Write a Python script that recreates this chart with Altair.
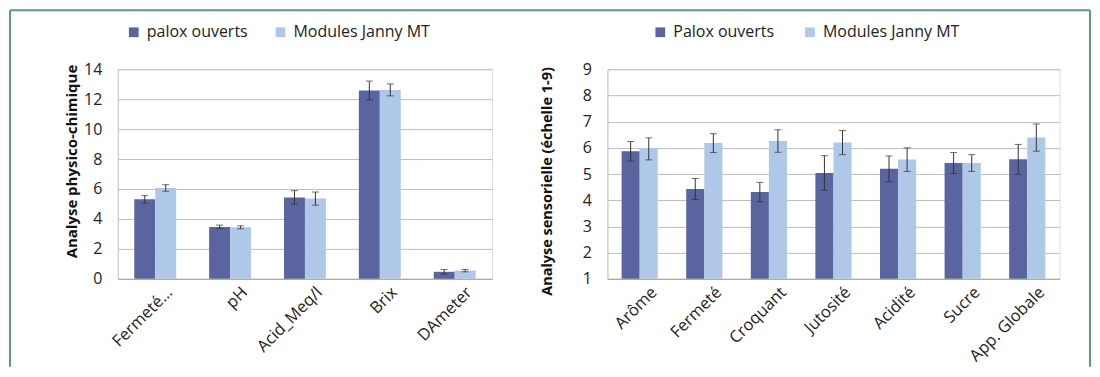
import altair as alt
import pandas as pd

# ---- data ----
left_cats = ["Fermeté…", "pH", "Acid_Meq/l", "Brix", "DAmeter"]
left_series = ["palox ouverts", "Modules Janny MT"]
left_dark = [5.31, 3.47, 5.44, 12.58, 0.47]
left_dark_err = [0.25, 0.12, 0.45, 0.63, 0.15]
left_light = [6.07, 3.44, 5.36, 12.62, 0.55]
left_light_err = [0.22, 0.10, 0.44, 0.40, 0.08]

right_cats = ["Arôme", "Fermeté", "Croquant", "Jutosité", "Acidité", "Sucre", "App. Globale"]
right_series = ["Palox ouverts", "Modules Janny MT"]
right_dark = [5.87, 4.43, 4.31, 5.04, 5.20, 5.42, 5.56]
right_dark_err = [0.37, 0.40, 0.37, 0.66, 0.49, 0.40, 0.57]
right_light = [5.96, 6.18, 6.26, 6.20, 5.55, 5.42, 6.39]
right_light_err = [0.42, 0.36, 0.43, 0.46, 0.45, 0.32, 0.52]

DARK = "#5A649F"
LIGHT = "#B0C8E8"
GREEN = "#5E9878"
FONT = "Open Sans"


def make_df(cats, series, dark, dark_err, light, light_err):
    rows = []
    for c, v, e in zip(cats, dark, dark_err):
        rows.append({"cat": c, "series": series[0], "value": v, "lo": v - e, "hi": v + e})
    for c, v, e in zip(cats, light, light_err):
        rows.append({"cat": c, "series": series[1], "value": v, "lo": v - e, "hi": v + e})
    return pd.DataFrame(rows)


def panel(df, cats, series, width, ydomain, ystep, ytitle, title_x, title_y,
          title_size, legend_x, col_pad, frame=False):
    base = alt.Chart(df).encode(
        x=alt.X("cat:N", sort=cats, title=None,
                scale=alt.Scale(paddingInner=0.44, paddingOuter=0.22),
                axis=alt.Axis(labelAngle=-45, labelFontSize=16.5, labelFont=FONT,
                              labelColor="#222222", ticks=False, domain=True,
                              domainColor="#A8A8A8", labelPadding=5, labelOffset=9,
                              labelOverlap=False)),
        xOffset=alt.XOffset("series:N", sort=series, scale=alt.Scale(paddingInner=0, paddingOuter=0)),
    )
    yscale = alt.Scale(domain=ydomain, nice=False, zero=False)
    ticks_vals = list(range(ydomain[0], ydomain[1] + 1, ystep))
    bars = base.mark_bar().encode(
        y=alt.Y("value:Q", scale=yscale, title=ytitle,
                axis=alt.Axis(values=ticks_vals, tickCount=len(ticks_vals) + 2,
                              grid=True, gridColor="#BEBEBE",
                              ticks=False, domain=True, domainColor="#C8C8C8",
                              labelOverlap=False,
                              labelFontSize=16, labelFont=FONT, labelColor="#222222",
                              labelPadding=16, titleFont=FONT, titleFontSize=title_size,
                              titleFontWeight="bold", titleColor="#111111",
                              titleAngle=-90, titleX=title_x, titleY=title_y,
                              titleAlign="center", titleBaseline="middle")),
        y2=alt.datum(ydomain[0]),
        color=alt.Color("series:N", sort=series,
                        scale=alt.Scale(domain=series, range=[DARK, LIGHT]),
                        legend=alt.Legend(title=None, orient="none", direction="horizontal",
                                          legendX=legend_x, legendY=-45,
                                          symbolType="square", symbolSize=95,
                                          symbolStrokeWidth=0, labelFont=FONT,
                                          labelFontSize=16, labelColor="#222222",
                                          labelOffset=5, columnPadding=col_pad)),
    )
    rules = base.mark_rule(color="#333333", strokeWidth=1).encode(
        y=alt.Y("lo:Q", scale=yscale), y2="hi:Q")
    cap_hi = base.mark_tick(color="#333333", thickness=1, size=7).encode(
        y=alt.Y("hi:Q", scale=yscale))
    cap_lo = base.mark_tick(color="#333333", thickness=1, size=7).encode(
        y=alt.Y("lo:Q", scale=yscale))
    layers = [bars, rules, cap_hi, cap_lo]
    if frame:
        fr = alt.Chart(pd.DataFrame({"a": [0]}))
        layers.append(fr.mark_rule(color=GREEN, strokeWidth=2).encode(
            x=alt.value(-108), y=alt.value(-59), y2=alt.value(298)))
        layers.append(fr.mark_rule(color=GREEN, strokeWidth=2).encode(
            x=alt.value(-108), x2=alt.value(974), y=alt.value(-59)))
        layers.append(fr.mark_rule(color=GREEN, strokeWidth=2).encode(
            x=alt.value(974), y=alt.value(-59), y2=alt.value(298)))
    return alt.layer(*layers).properties(width=width, height=210)


ldf = make_df(left_cats, left_series, left_dark, left_dark_err, left_light, left_light_err)
rdf = make_df(right_cats, right_series, right_dark, right_dark_err, right_light, right_light_err)

left = panel(ldf, left_cats, left_series, 375, [0, 14], 2, "Analyse  physico-chimique",
             -46, 92, 15, 8, 24, frame=True)
right = panel(rdf, right_cats, right_series, 453, [1, 9], 1, "Analyse sensorielle (échelle 1-9)",
              -60, 112, 14.5, 45, 28)

chart = alt.hconcat(left, right, spacing=115.5, bounds="flush").resolve_scale(
    color="independent", x="independent", y="independent", xOffset="independent"
).properties(padding=0).configure_view(stroke=None).configure(background="white")

chart.save("out.html", embed_options={"renderer": "svg", "actions": False})
